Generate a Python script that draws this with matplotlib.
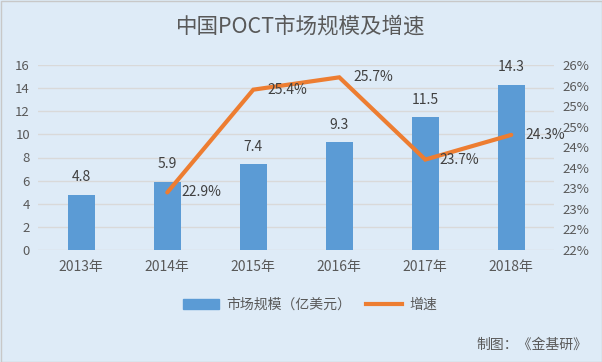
import matplotlib
matplotlib.use("Agg")
import matplotlib.pyplot as plt
from matplotlib.patches import Patch
from matplotlib.lines import Line2D

plt.rcParams['font.family'] = ['Noto Sans CJK SC', 'DejaVu Sans']

years = ["2013年", "2014年", "2015年", "2016年", "2017年", "2018年"]
market = [4.8, 5.9, 7.4, 9.3, 11.5, 14.3]
growth_years = ["2014年", "2015年", "2016年", "2017年", "2018年"]
growth = [0.229, 0.254, 0.257, 0.237, 0.243]
left_ticks = [0, 2, 4, 6, 8, 10, 12, 14, 16]
right_ticks = [0.215, 0.22, 0.225, 0.23, 0.235, 0.24, 0.245, 0.25, 0.255, 0.26]
right_tick_labels = ["22%", "22%", "23%", "23%", "24%", "24%", "25%", "25%", "26%", "26%"]

BG = "#DEEBF7"
BAR = "#5B9BD5"
LINE = "#ED7D31"
GRID = "#D9D9D9"
TXT = "#404040"
TICK = "#595959"

W, H = 602, 362
fig = plt.figure(figsize=(W/100, H/100), dpi=100, facecolor=BG)
ax = fig.add_axes([38.3/W, 1 - 250/H, (554.3-38.3)/W, (250-65)/H])
ax.set_facecolor(BG)

x = list(range(len(years)))
ax.bar(x, market, width=0.32, color=BAR, zorder=2)
ax.set_xlim(-0.5, len(years) - 0.5)
ax.set_ylim(0, 16)
ax.set_yticks(left_ticks)
ax.set_xticks(x)
ax.set_xticklabels(years)
ax.grid(axis='y', color=GRID, linewidth=1, zorder=0)
ax.set_axisbelow(True)
for s in ax.spines.values():
    s.set_visible(False)
ax.tick_params(axis='y', length=0, labelsize=9.5, colors=TICK, pad=6)
ax.tick_params(axis='x', length=0, labelsize=10, colors=TICK, pad=7)
for xi, v in zip(x, market):
    ax.annotate(f"{v:.1f}", (xi, v), xytext=(0, 7.5), textcoords='offset points',
                ha='center', va='bottom', fontsize=10, color=TXT)

ax2 = ax.twinx()
gx = [years.index(y) for y in growth_years]
ax2.plot(gx, growth, color=LINE, linewidth=3, solid_capstyle='round', solid_joinstyle='miter', zorder=3)
ax2.set_ylim(0.215, 0.26)
ax2.set_yticks(right_ticks)
ax2.set_yticklabels(right_tick_labels)
for s in ax2.spines.values():
    s.set_visible(False)
ax2.tick_params(axis='y', length=0, labelsize=9.5, colors=TICK, pad=6)
for xi, v in zip(gx, growth):
    ax2.annotate(f"{v*100:.1f}%", (xi, v), xytext=(10.5, 0), textcoords='offset points',
                 ha='left', va='center', fontsize=10, color=TXT)

fig.text(301/W, 1 - 27/H, "中国POCT市场规模及增速", ha='center', va='center',
         fontsize=15.5, color=TICK)

handles = [Patch(facecolor=BAR, edgecolor=BAR), Line2D([0], [0], color=LINE, linewidth=3)]
fig.legend(handles, ["市场规模（亿美元）", "增速"], loc='center', bbox_to_anchor=(310/W, 1 - 305/H),
           ncol=2, frameon=False, fontsize=10, labelcolor=TICK, handlelength=2.6,
           handletextpad=0.5, columnspacing=1.1)

fig.text(587/W, 1 - 345/H, "制图：《金基研》", ha='right', va='center', fontsize=10, color=TICK)

fig.patches.append(plt.Rectangle((0.5/W, 0.5/H), 1 - 1/W, 1 - 1/H, transform=fig.transFigure,
                                 fill=False, edgecolor="#C8C8C8", linewidth=1))

fig.savefig("out.png", dpi=100, facecolor=BG)
